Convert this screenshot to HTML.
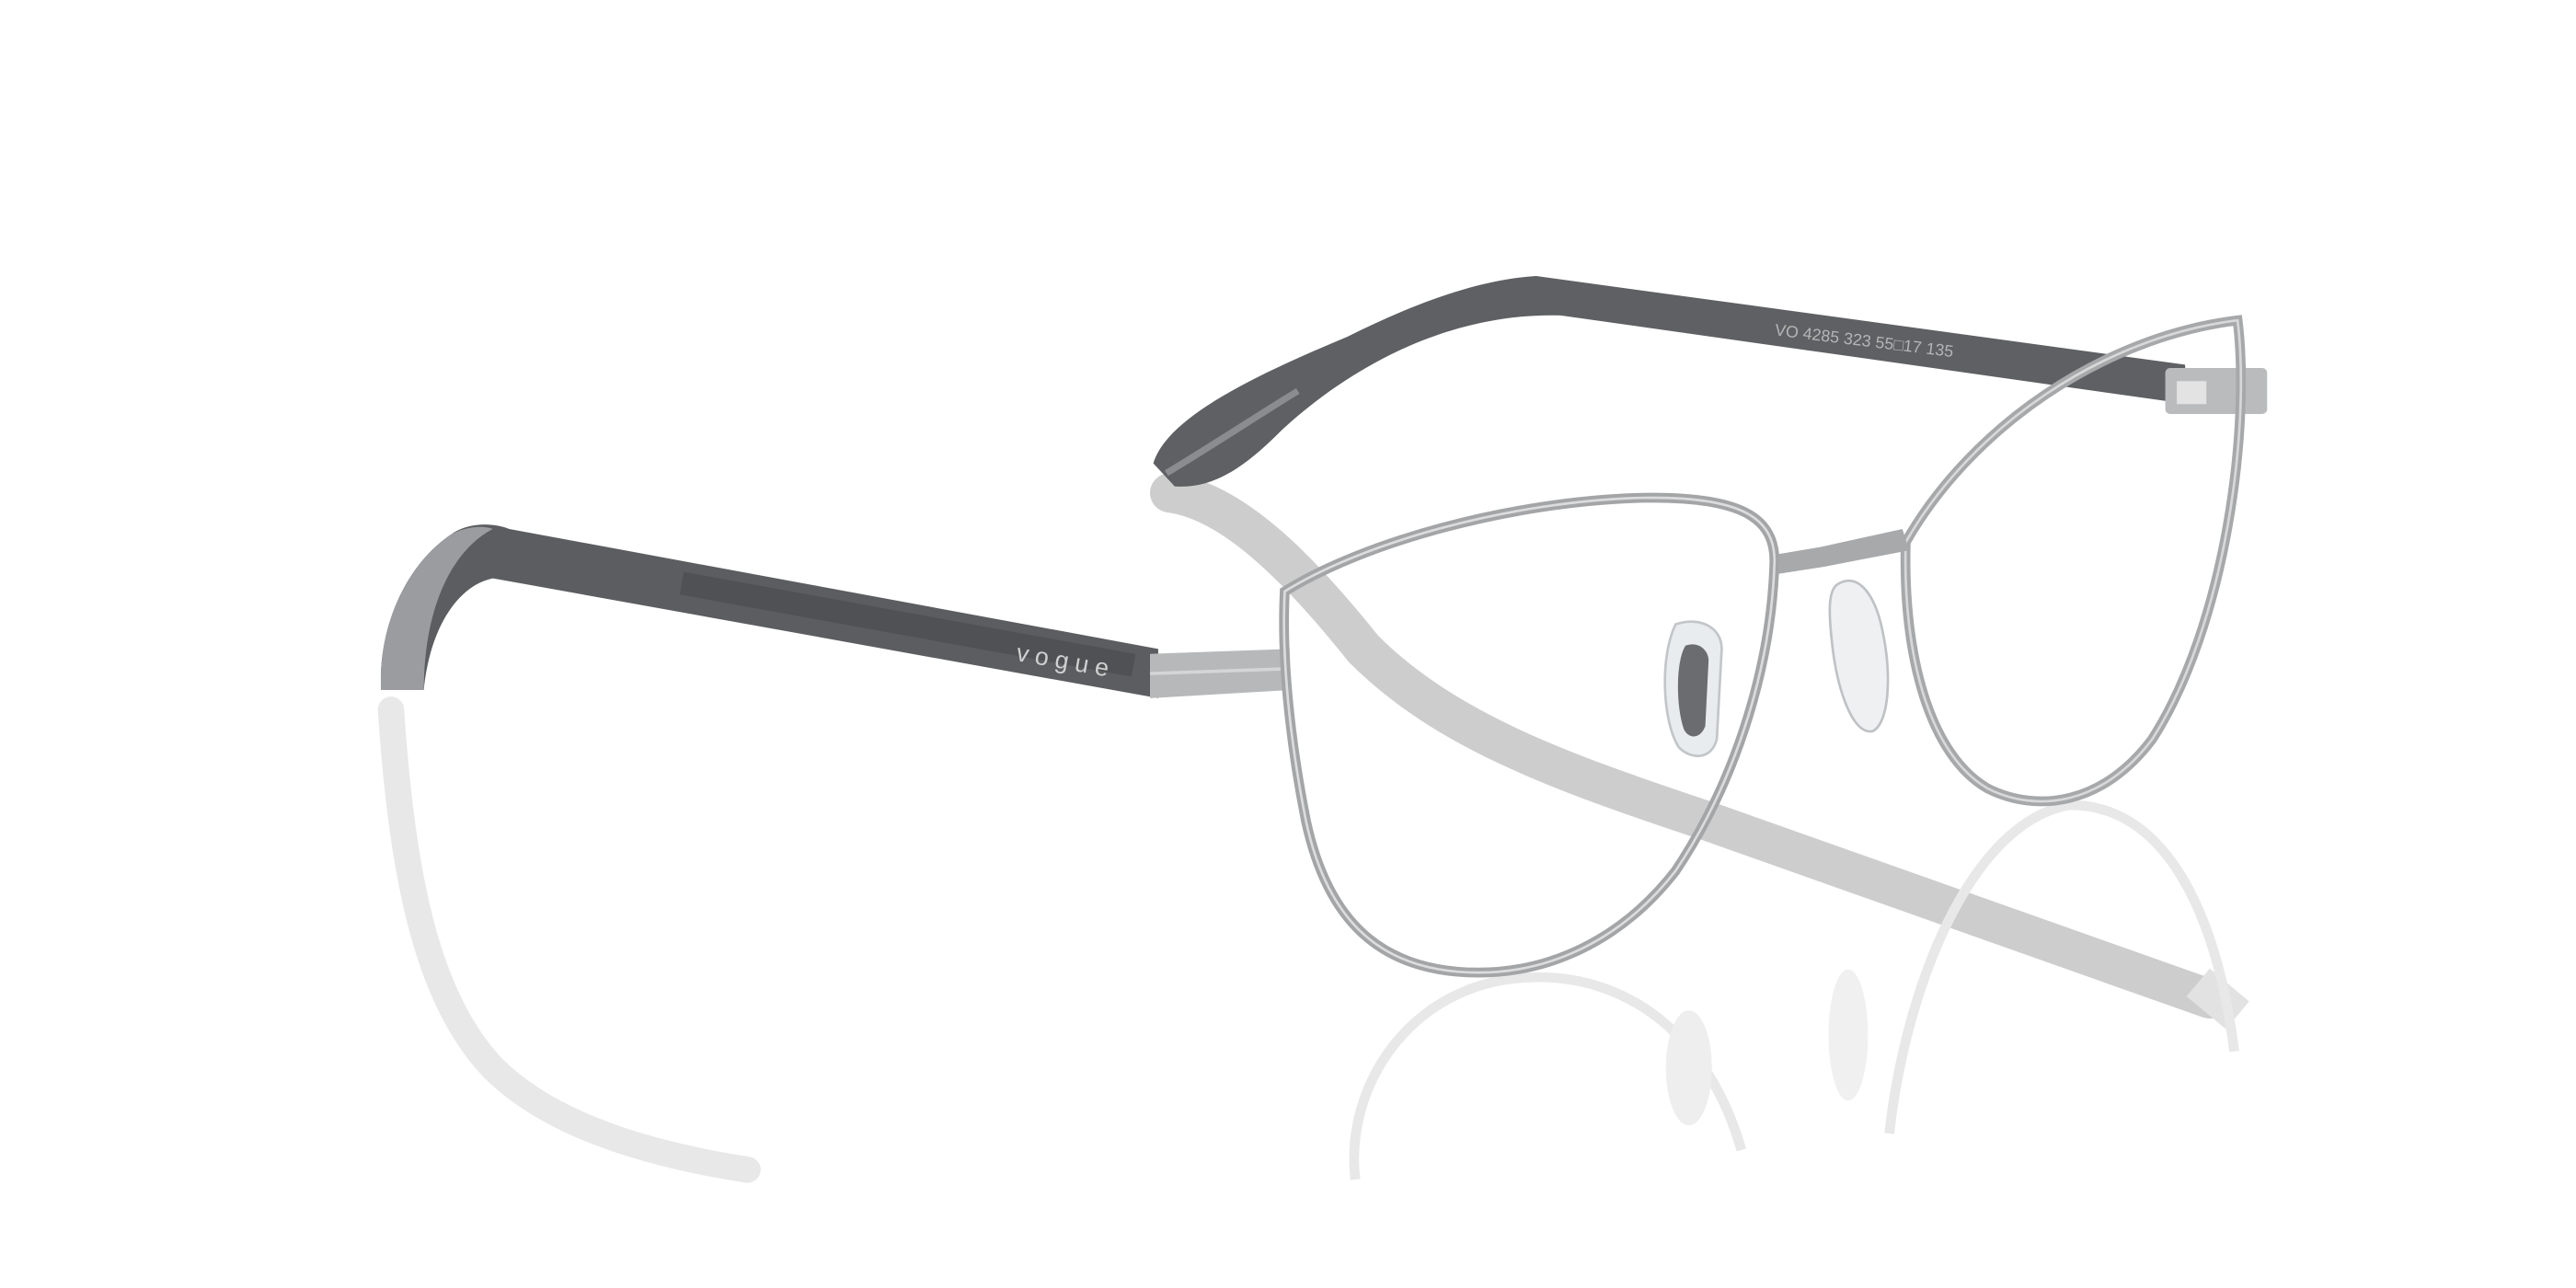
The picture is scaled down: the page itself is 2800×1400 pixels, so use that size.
<!DOCTYPE html>
<html><head><meta charset="utf-8">
<style>
html,body{margin:0;padding:0;background:#fff;}
svg{display:block;}
text{font-family:"Liberation Sans",sans-serif;}
</style></head>
<body>
<svg width="2800" height="1400" viewBox="0 0 1568 784" preserveAspectRatio="none" xmlns="http://www.w3.org/2000/svg">
<rect width="1568" height="784" fill="#fff"/>
<!-- reflections -->
<path d="M238,432 C245,540 262,610 300,650 C340,690 410,705 455,712" stroke="#e8e8e8" stroke-width="16" fill="none" stroke-linecap="round"/>
<path d="M712,300 C750,305 790,345 830,395 C880,445 950,470 1040,500 L1345,608" stroke="#cdcdcd" stroke-width="24" fill="none" stroke-linecap="round"/>
<path d="M1338,598 L1362,618" stroke="#e2e2e2" stroke-width="22"/>
<path d="M825,718 C818,660 860,598 930,595 C990,592 1040,630 1060,700" stroke="#e8e8e8" stroke-width="6" fill="none"/>
<path d="M1150,690 C1160,600 1200,500 1260,490 C1320,490 1350,560 1360,640" stroke="#e8e8e8" stroke-width="6" fill="none"/>
<ellipse cx="1028" cy="650" rx="14" ry="35" fill="#eeeeee"/>
<ellipse cx="1125" cy="630" rx="12" ry="40" fill="#f0f0f0"/>
<!-- back temple -->
<path d="M702,282 C710,255 760,230 820,205 C860,185 900,170 935,168 L1330,222 L1332,246 L950,192 C880,190 820,225 780,262 C760,282 740,298 715,296 Z" fill="#5e6063"/>
<path d="M710,288 C740,270 770,250 790,238" stroke="#8a8c8f" stroke-width="4" fill="none"/>
<rect x="1318" y="224" width="62" height="28" rx="3" fill="#b9bbbd"/>
<rect x="1325" y="232" width="18" height="14" fill="#e3e3e3"/>
<!-- right lens rim -->
<path d="M1160,330 C1200,260 1280,205 1362,195 C1370,260 1355,380 1310,450 C1280,490 1240,495 1210,480 C1175,460 1158,400 1160,330 Z" fill="none" stroke="#a6a8aa" stroke-width="6"/>
<path d="M1160,330 C1200,260 1280,205 1362,195 C1370,260 1355,380 1310,450 C1280,490 1240,495 1210,480 C1175,460 1158,400 1160,330 Z" fill="none" stroke="#d8d8d8" stroke-width="1.5"/>
<!-- bridge -->
<path d="M1078,338 L1108,333 L1158,322 L1162,335 L1110,345 L1078,350 Z" fill="#a7a9ab"/>
<!-- right nose pad -->
<path d="M1118,356 C1130,348 1140,360 1145,380 C1152,410 1150,440 1140,445 C1128,448 1118,420 1115,390 C1113,372 1113,360 1118,356 Z" fill="#eef0f2" stroke="#bfc2c5" stroke-width="1.5"/>
<!-- front temple -->
<path d="M232,420 C230,385 245,345 275,325 C285,318 300,318 310,322 L705,395 L705,425 L300,352 C280,356 262,380 258,420 Z" fill="#5b5d60"/>
<path d="M232,420 C230,385 245,345 275,325 C285,320 295,320 300,322 C275,335 258,370 258,420 Z" fill="#9a9ca0"/>
<path d="M415,355 L690,405" stroke="#464749" stroke-width="14" opacity="0.5"/>
<text x="618" y="402" font-size="15" fill="#d0d0d0" transform="rotate(10 618 402)" letter-spacing="4">vogue</text>
<!-- hinge -->
<path d="M700,398 L785,395 L785,420 L700,425 Z" fill="#b6b8ba"/>
<path d="M700,410 L785,407" stroke="#d4d5d6" stroke-width="2"/>
<!-- left lens rim -->
<path d="M782,360 C830,330 920,305 1000,303 C1060,302 1082,315 1080,345 C1078,400 1060,470 1020,530 C985,575 940,592 900,592 C840,592 808,560 795,500 C785,450 780,400 782,360 Z" fill="none" stroke="#a3a5a7" stroke-width="6"/>
<path d="M782,360 C830,330 920,305 1000,303 C1060,302 1082,315 1080,345 C1078,400 1060,470 1020,530 C985,575 940,592 900,592 C840,592 808,560 795,500 C785,450 780,400 782,360 Z" fill="none" stroke="#dcdcdc" stroke-width="1.5"/>
<!-- left nose pad -->
<path d="M1020,380 C1035,375 1048,382 1048,395 L1045,450 C1042,462 1030,463 1022,455 C1012,440 1010,400 1020,380 Z" fill="#e8ecef" stroke="#c2c6c9" stroke-width="1.5"/>
<path d="M1026,393 C1034,390 1040,396 1040,402 L1038,442 C1035,450 1028,450 1025,444 C1020,430 1020,402 1026,393 Z" fill="#6a6c6f"/>
<!-- temple text -->
<text x="1080" y="204" font-size="10" fill="#b5b5b5" transform="rotate(7 1080 204)">VO 4285     323     55□17     135</text>
</svg>
</body></html>
